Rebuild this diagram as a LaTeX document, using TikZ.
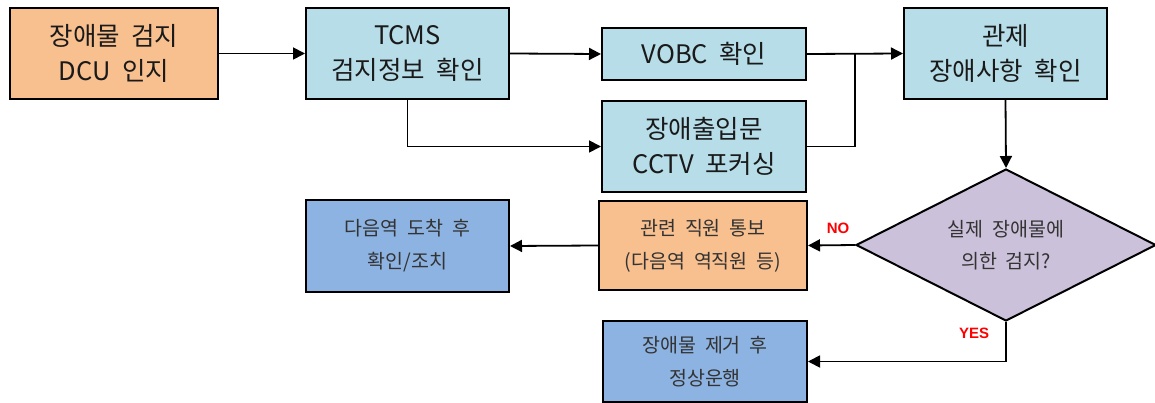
\documentclass[tikz,border=0pt]{standalone}
\usepackage{fontspec}
\setmainfont{Noto Sans CJK KR}[WordSpace=2]
\newfontfamily\labelfont{Liberation Sans}
\usetikzlibrary{arrows.meta,shapes.geometric}
\definecolor{orangefill}{HTML}{F8BF8F}
\definecolor{aquafill}{HTML}{B7DDE8}
\definecolor{bluefill}{HTML}{8DB3E2}
\definecolor{lavfill}{HTML}{CCC1DA}
\definecolor{txtdark}{HTML}{1A1A1A}
\definecolor{txtgray}{HTML}{333333}
\definecolor{nored}{HTML}{FF0000}
\tikzset{
  boxbase/.style={draw=black, line width=2pt, rectangle, inner sep=0pt, align=center},
  bigbox/.style={boxbase, text=txtdark, font=\fontsize{25.5}{35}\selectfont},
  smallbox/.style={boxbase, text=txtgray, font=\fontsize{19.5}{33}\selectfont},
  decision/.style={draw=black, line width=2pt, diamond, aspect=2, inner sep=0pt, align=center,
    fill=lavfill, text=txtgray, font=\fontsize{19.5}{32}\selectfont},
  conn/.style={line width=1.8pt, draw=black},
  arr/.style={conn, -{Triangle[length=12pt,width=12pt]}},
  yn/.style={text=nored, font=\labelfont\bfseries\fontsize{15}{17}\selectfont, inner sep=0pt}
}
\begin{document}
\begin{tikzpicture}[x=1pt,y=-1pt]
\useasboundingbox (0,0) rectangle (1155,403);
\node[bigbox, fill=orangefill, minimum width=208pt, minimum height=91pt] (b1) at (114,53.5) {장애물 검지\\DCU 인지};
\node[bigbox, fill=aquafill, minimum width=203pt, minimum height=91pt] (b2) at (407.5,53.5) {TCMS\\검지정보 확인};
\node[bigbox, fill=aquafill, minimum width=204pt, minimum height=52pt] (vobc) at (704,54) {VOBC 확인};
\node[bigbox, fill=aquafill, minimum width=204pt, minimum height=91pt] (cctv) at (704,146.5) {장애출입문\\CCTV 포커싱};
\node[bigbox, fill=aquafill, minimum width=203pt, minimum height=91pt] (gw) at (1005.5,53.5) {관제\\장애사항 확인};
\node[decision, minimum width=300pt, minimum height=152pt] (dia) at (1006,245) {실제 장애물에\\의한 검지?};
\node[smallbox, fill=orangefill, minimum width=208pt, minimum height=89pt] (notify) at (703,245.5) {관련 직원 통보\\(다음역 역직원 등)};
\node[smallbox, fill=bluefill, minimum width=203pt, minimum height=92pt] (next) at (407.5,246) {다음역 도착 후\\확인/조치};
\node[smallbox, fill=bluefill, minimum width=204pt, minimum height=81pt] (remove) at (705,361.5) {장애물 제거 후\\정상운행};
\coordinate (m) at (855,54);
\node[yn] (no) at (838,228) {NO};
\node[yn] (yes) at (974,333) {YES};
\draw[arr] (b1.east) -- (b2.west);
\draw[arr] (b2.east) -- (vobc.west);
\draw[arr] (b2.south) |- (cctv.west);
\draw[arr] (vobc.east) -- (gw.west);
\draw[conn] (cctv.east) -| (m);
\draw[arr] (gw.south) -- (dia.north);
\draw[arr] (dia.west) -- (notify.east);
\draw[arr] (notify.west) -- (next.east);
\draw[arr] (dia.south) |- (remove.east);
\end{tikzpicture}
\end{document}
